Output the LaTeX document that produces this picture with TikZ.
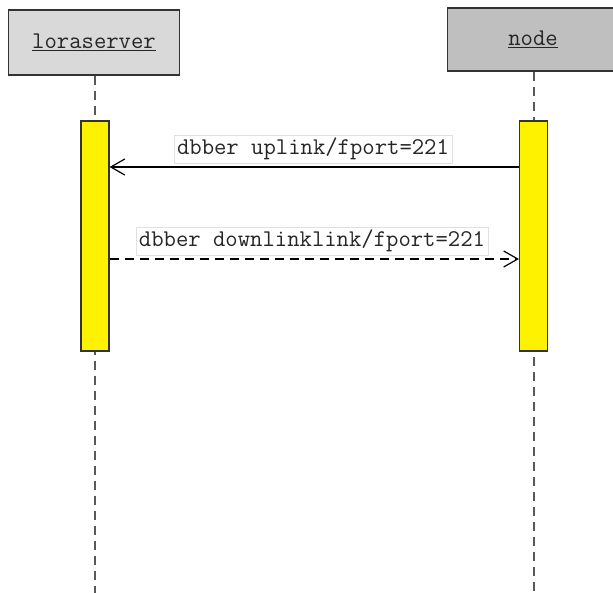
\documentclass[tikz,border=0pt]{standalone}
\usetikzlibrary{arrows.meta}

\begin{document}
\begin{tikzpicture}[x=1pt,y=-1pt,>={Straight Barb[length=14pt,width=16pt]},
 actor/.style={draw=black!80,line width=1.4pt,minimum width=171pt,font=\fontsize{24}{28}\ttfamily,text=black!85},
 lifeline/.style={draw=black!65,line width=2pt,dash pattern=on 9pt off 6pt},
 activation/.style={draw=black!80,line width=1.2pt,fill=yellow,minimum width=28pt,minimum height=230pt,inner sep=0pt},
 msg/.style={draw=black!12,fill=white,font=\fontsize{24}{28}\ttfamily,inner sep=3pt,text=black!85},
 call/.style={->,line width=1.2pt},reply/.style={->,line width=1.2pt,dash pattern=on 9pt off 6pt}]
\useasboundingbox (0,0) rectangle (613,593);
\node[actor,fill=black!15,minimum height=65pt] (lora) at (94,42.5) {\underline{loraserver}};
\node[actor,fill=black!25,minimum height=63pt] (dev) at (533,39.5) {\underline{node}};
\coordinate (lora-end) at (95,593);
\coordinate (dev-end) at (533.5,593);
\draw[lifeline] (lora.south -| lora-end)--(lora-end);
\draw[lifeline] (dev.south -| dev-end)--(dev-end);
\node[activation] (lora-act) at (95,236) {};
\node[activation] (dev-act) at (533.5,236) {};
\draw[call] ([yshift=69pt]dev-act.west)--([yshift=69pt]lora-act.east);
\node[msg] (up) at (313,149) {dbber uplink/fport=221};
\draw[reply] ([yshift=-23pt]lora-act.east)--([yshift=-23pt]dev-act.west);
\node[msg] (down) at (312,241) {dbber downlinklink/fport=221};
\end{tikzpicture}
\end{document}
